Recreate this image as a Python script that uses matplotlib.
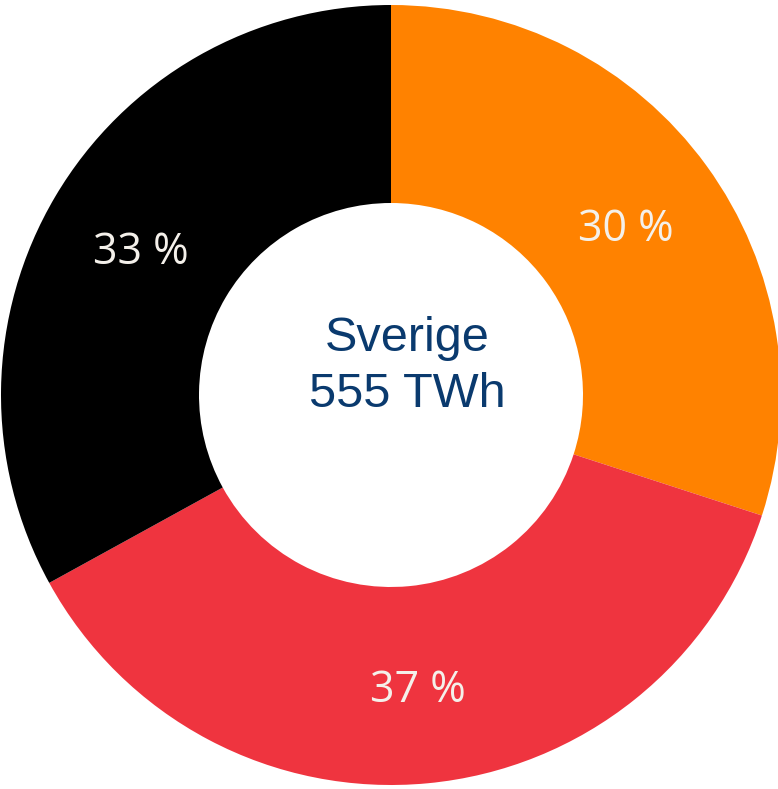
import matplotlib
matplotlib.use("Agg")
import matplotlib.pyplot as plt

# share per category (%), clockwise from the top
labels = ["Orange", "Red", "Black"]
shares = [30, 37, 33]
colors = ["#FF8200", "#EF343F", "#000000"]

center_title = "Sverige"
center_total = "555 TWh"

fig = plt.figure(figsize=(7.78, 7.89), dpi=100)
ax = fig.add_axes([0, 0, 1, 1])

wedges, texts, autotexts = ax.pie(
    shares, colors=colors, startangle=90, counterclock=False,
    center=(391, 394), radius=390, frame=True,
    autopct=lambda p: "%d %%" % round(p), pctdistance=0.745,
    wedgeprops=dict(width=198, edgecolor="none"))
for t in autotexts:
    t.set_fontfamily(["Open Sans", "DejaVu Sans"])
    t.set_fontsize(31)
    t.set_color("#F4F0EA")
    t.set_y(t.get_position()[1] - 6)

ax.set_xlim(0, 778)
ax.set_ylim(0, 789)
ax.set_aspect("equal")
ax.axis("off")

# centre label sits a little right of the ring centre in the original
ax.text(407, 789 - 338, center_title, ha="center", va="center",
        fontsize=35, color="#0A3A6E", family="Liberation Sans")
ax.text(407, 789 - 394, center_total, ha="center", va="center",
        fontsize=35, color="#0A3A6E", family="Liberation Sans")

fig.savefig("out.png", dpi=100)
